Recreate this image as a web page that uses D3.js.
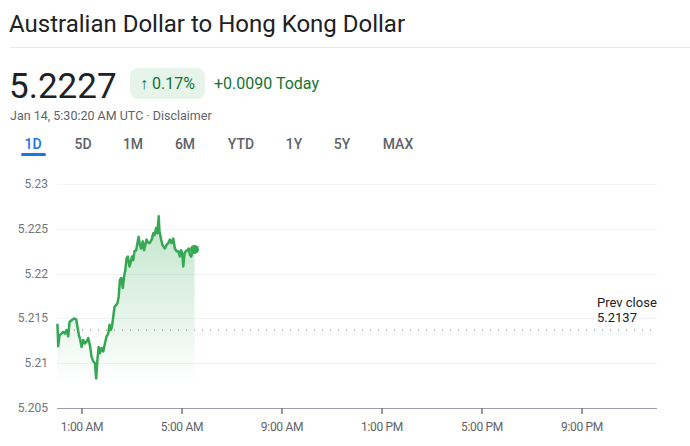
<!DOCTYPE html>
<head>
<meta charset="utf-8">
<style>
body { margin: 0; background: #fff; font-family: Roboto, Arial, sans-serif; }
svg text { font-family: Roboto, Arial, sans-serif; }
</style>
</head>
<body>
<script src="https://d3js.org/d3.v7.min.js"></script>
<script>

// minutes after midnight (UTC) and rate
var minutes = [1, 3, 6, 11, 15, 19, 23, 27, 30, 35, 41, 46, 49, 53, 55, 59, 63, 67, 71, 75,
  79, 83, 87, 91, 94, 97, 100, 103, 107, 111, 115, 119, 123, 126, 129, 132, 135, 138, 142, 145,
  148, 151, 154, 158, 161, 164, 167, 170, 174, 177, 180, 183, 186, 190, 193, 196, 199, 202, 206, 209,
  212, 215, 218, 222, 225, 228, 231, 234, 238, 241, 244, 246, 250, 253, 256, 259, 263, 267, 271, 275,
  279, 283, 287, 291, 295, 298, 301, 303, 306, 309, 313, 316, 319, 322, 326, 330];
var rates = [5.2144, 5.2119, 5.2131, 5.2133, 5.2135, 5.2133, 5.2137, 5.2130, 5.2146, 5.2148, 5.2150, 5.2149, 5.2141, 5.2130, 5.2128, 5.2118, 5.2126, 5.2122, 5.2124, 5.2128,
  5.2120, 5.2107, 5.2102, 5.2100, 5.2083, 5.2104, 5.2118, 5.2111, 5.2117, 5.2113, 5.2122, 5.2130, 5.2133, 5.2143, 5.2137, 5.2141, 5.2152, 5.2163, 5.2165, 5.2167,
  5.2174, 5.2193, 5.2195, 5.2184, 5.2197, 5.2204, 5.2217, 5.2219, 5.2208, 5.2213, 5.2219, 5.2215, 5.2225, 5.2226, 5.2234, 5.2241, 5.2232, 5.2228, 5.2236, 5.2226,
  5.2232, 5.2238, 5.2235, 5.2234, 5.2236, 5.2239, 5.2245, 5.2243, 5.2251, 5.2245, 5.2264, 5.2247, 5.2238, 5.2232, 5.2230, 5.2228, 5.2232, 5.2234, 5.2238, 5.2234,
  5.2239, 5.2228, 5.2225, 5.2225, 5.2219, 5.2226, 5.2222, 5.2208, 5.2222, 5.2225, 5.2226, 5.2228, 5.2221, 5.2219, 5.2225, 5.2227];

var yTicks = [5.205, 5.21, 5.215, 5.22, 5.225, 5.23];
var xTickHours = [1, 5, 9, 13, 17, 21];
var xTickLabels = ["1:00 AM", "5:00 AM", "9:00 AM", "1:00 PM", "5:00 PM", "9:00 PM"];
var tabs = ["1D", "5D", "1M", "6M", "YTD", "1Y", "5Y", "MAX"];
var tabX = [33, 83, 133, 185, 241, 294, 342, 398];
var prevClose = 5.2137;

var data = minutes.map(function(m, i) { return {h: m / 60, v: rates[i]}; });

var svg = d3.select("body").append("svg")
    .attr("width", 690)
    .attr("height", 446);

// header
svg.append("text").attr("x", 9).attr("y", 32)
    .style("font-size", "24px").style("fill", "#202124")
    .text("Australian Dollar to Hong Kong Dollar");
svg.append("line").attr("x1", 10).attr("x2", 690).attr("y1", 47.5).attr("y2", 47.5)
    .style("stroke", "#e8eaed");

svg.append("text").attr("x", 9).attr("y", 98)
    .style("font-size", "35px").style("fill", "#202124")
    .text("5.2227");
svg.append("rect").attr("x", 130).attr("y", 68).attr("width", 75).attr("height", 31)
    .attr("rx", 8).style("fill", "#e6f4ea");
svg.append("text").attr("x", 167.5).attr("y", 89).attr("text-anchor", "middle")
    .style("font-size", "16px").style("fill", "#137333")
    .text("\u2191 0.17%");
svg.append("text").attr("x", 214).attr("y", 89)
    .style("font-size", "16px").style("fill", "#137333")
    .text("+0.0090 Today");
svg.append("text").attr("x", 10).attr("y", 120)
    .style("font-size", "12.5px").style("fill", "#5f6368")
    .text("Jan 14, 5:30:20 AM UTC \u00b7 Disclaimer");

// range tabs
svg.selectAll(".tab").data(tabs).enter().append("text")
    .attr("class", "tab")
    .attr("x", function(d, i) { return tabX[i]; })
    .attr("y", 149)
    .attr("text-anchor", "middle")
    .style("font-size", "14px").style("font-weight", 500)
    .style("fill", function(d, i) { return i === 0 ? "#1a73e8" : "#5f6368"; })
    .text(function(d) { return d; });
svg.append("rect").attr("x", 21).attr("y", 153).attr("width", 25).attr("height", 3)
    .attr("rx", 1.5).style("fill", "#1a73e8");

// chart
var x = d3.scaleLinear().domain([0, 24]).range([57, 657]);
var y = d3.scaleLinear().domain([5.205, 5.23]).range([408, 184]);

svg.selectAll(".grid").data(yTicks.slice(1)).enter().append("line")
    .attr("x1", 57).attr("x2", 657)
    .attr("y1", function(d) { return Math.round(y(d)) + 0.5; })
    .attr("y2", function(d) { return Math.round(y(d)) + 0.5; })
    .style("stroke", "#f1f3f4");

svg.selectAll(".ylab").data(yTicks).enter().append("text")
    .attr("x", 48).attr("y", function(d) { return y(d) + 4; })
    .attr("text-anchor", "end")
    .style("font-size", "12px").style("fill", "#70757a")
    .text(function(d) { return d3.format("")(+d.toFixed(3)); });

var defs = svg.append("defs");
var grad = defs.append("linearGradient").attr("id", "fade")
    .attr("x1", 0).attr("x2", 0).attr("y1", 0).attr("y2", 1);
grad.append("stop").attr("offset", "0%").attr("stop-color", "#34a853").attr("stop-opacity", 0.3);
grad.append("stop").attr("offset", "100%").attr("stop-color", "#34a853").attr("stop-opacity", 0);

var area = d3.area()
    .x(function(d) { return x(d.h); })
    .y0(385)
    .y1(function(d) { return y(d.v); });
svg.append("path").datum(data).attr("d", area).style("fill", "url(#fade)");

// prev close dotted line
svg.append("line").attr("x1", 58).attr("x2", 657)
    .attr("y1", y(prevClose)).attr("y2", y(prevClose))
    .style("stroke", "#80868b").style("stroke-width", 1)
    .style("stroke-dasharray", "1,7");
svg.append("text").attr("x", 597).attr("y", 307)
    .style("font-size", "13px").style("fill", "#202124").text("Prev close");
svg.append("text").attr("x", 597).attr("y", 322)
    .style("font-size", "13px").style("fill", "#202124").text(prevClose);

var line = d3.line()
    .x(function(d) { return x(d.h); })
    .y(function(d) { return y(d.v); });
svg.append("path").datum(data).attr("d", line)
    .style("fill", "none").style("stroke", "#34a853").style("stroke-width", 2.5)
    .style("stroke-linejoin", "round");

var last = data[data.length - 1];
svg.append("circle").attr("cx", x(last.h)).attr("cy", y(last.v)).attr("r", 4.5)
    .style("fill", "#34a853");

// x axis
svg.append("line").attr("x1", 57).attr("x2", 657).attr("y1", 408.5).attr("y2", 408.5)
    .style("stroke", "#9aa0a6");
svg.selectAll(".xtick").data(xTickHours).enter().append("line")
    .attr("x1", function(d) { return x(d); }).attr("x2", function(d) { return x(d); })
    .attr("y1", 408).attr("y2", 414)
    .style("stroke", "#70757a").style("stroke-width", 1.5);
svg.selectAll(".xlab").data(xTickHours).enter().append("text")
    .attr("x", function(d) { return x(d); }).attr("y", 431)
    .attr("text-anchor", "middle")
    .style("font-size", "12px").style("fill", "#5f6368").style("letter-spacing", "-0.3px")
    .text(function(d, i) { return xTickLabels[i]; });

</script>
</body>
